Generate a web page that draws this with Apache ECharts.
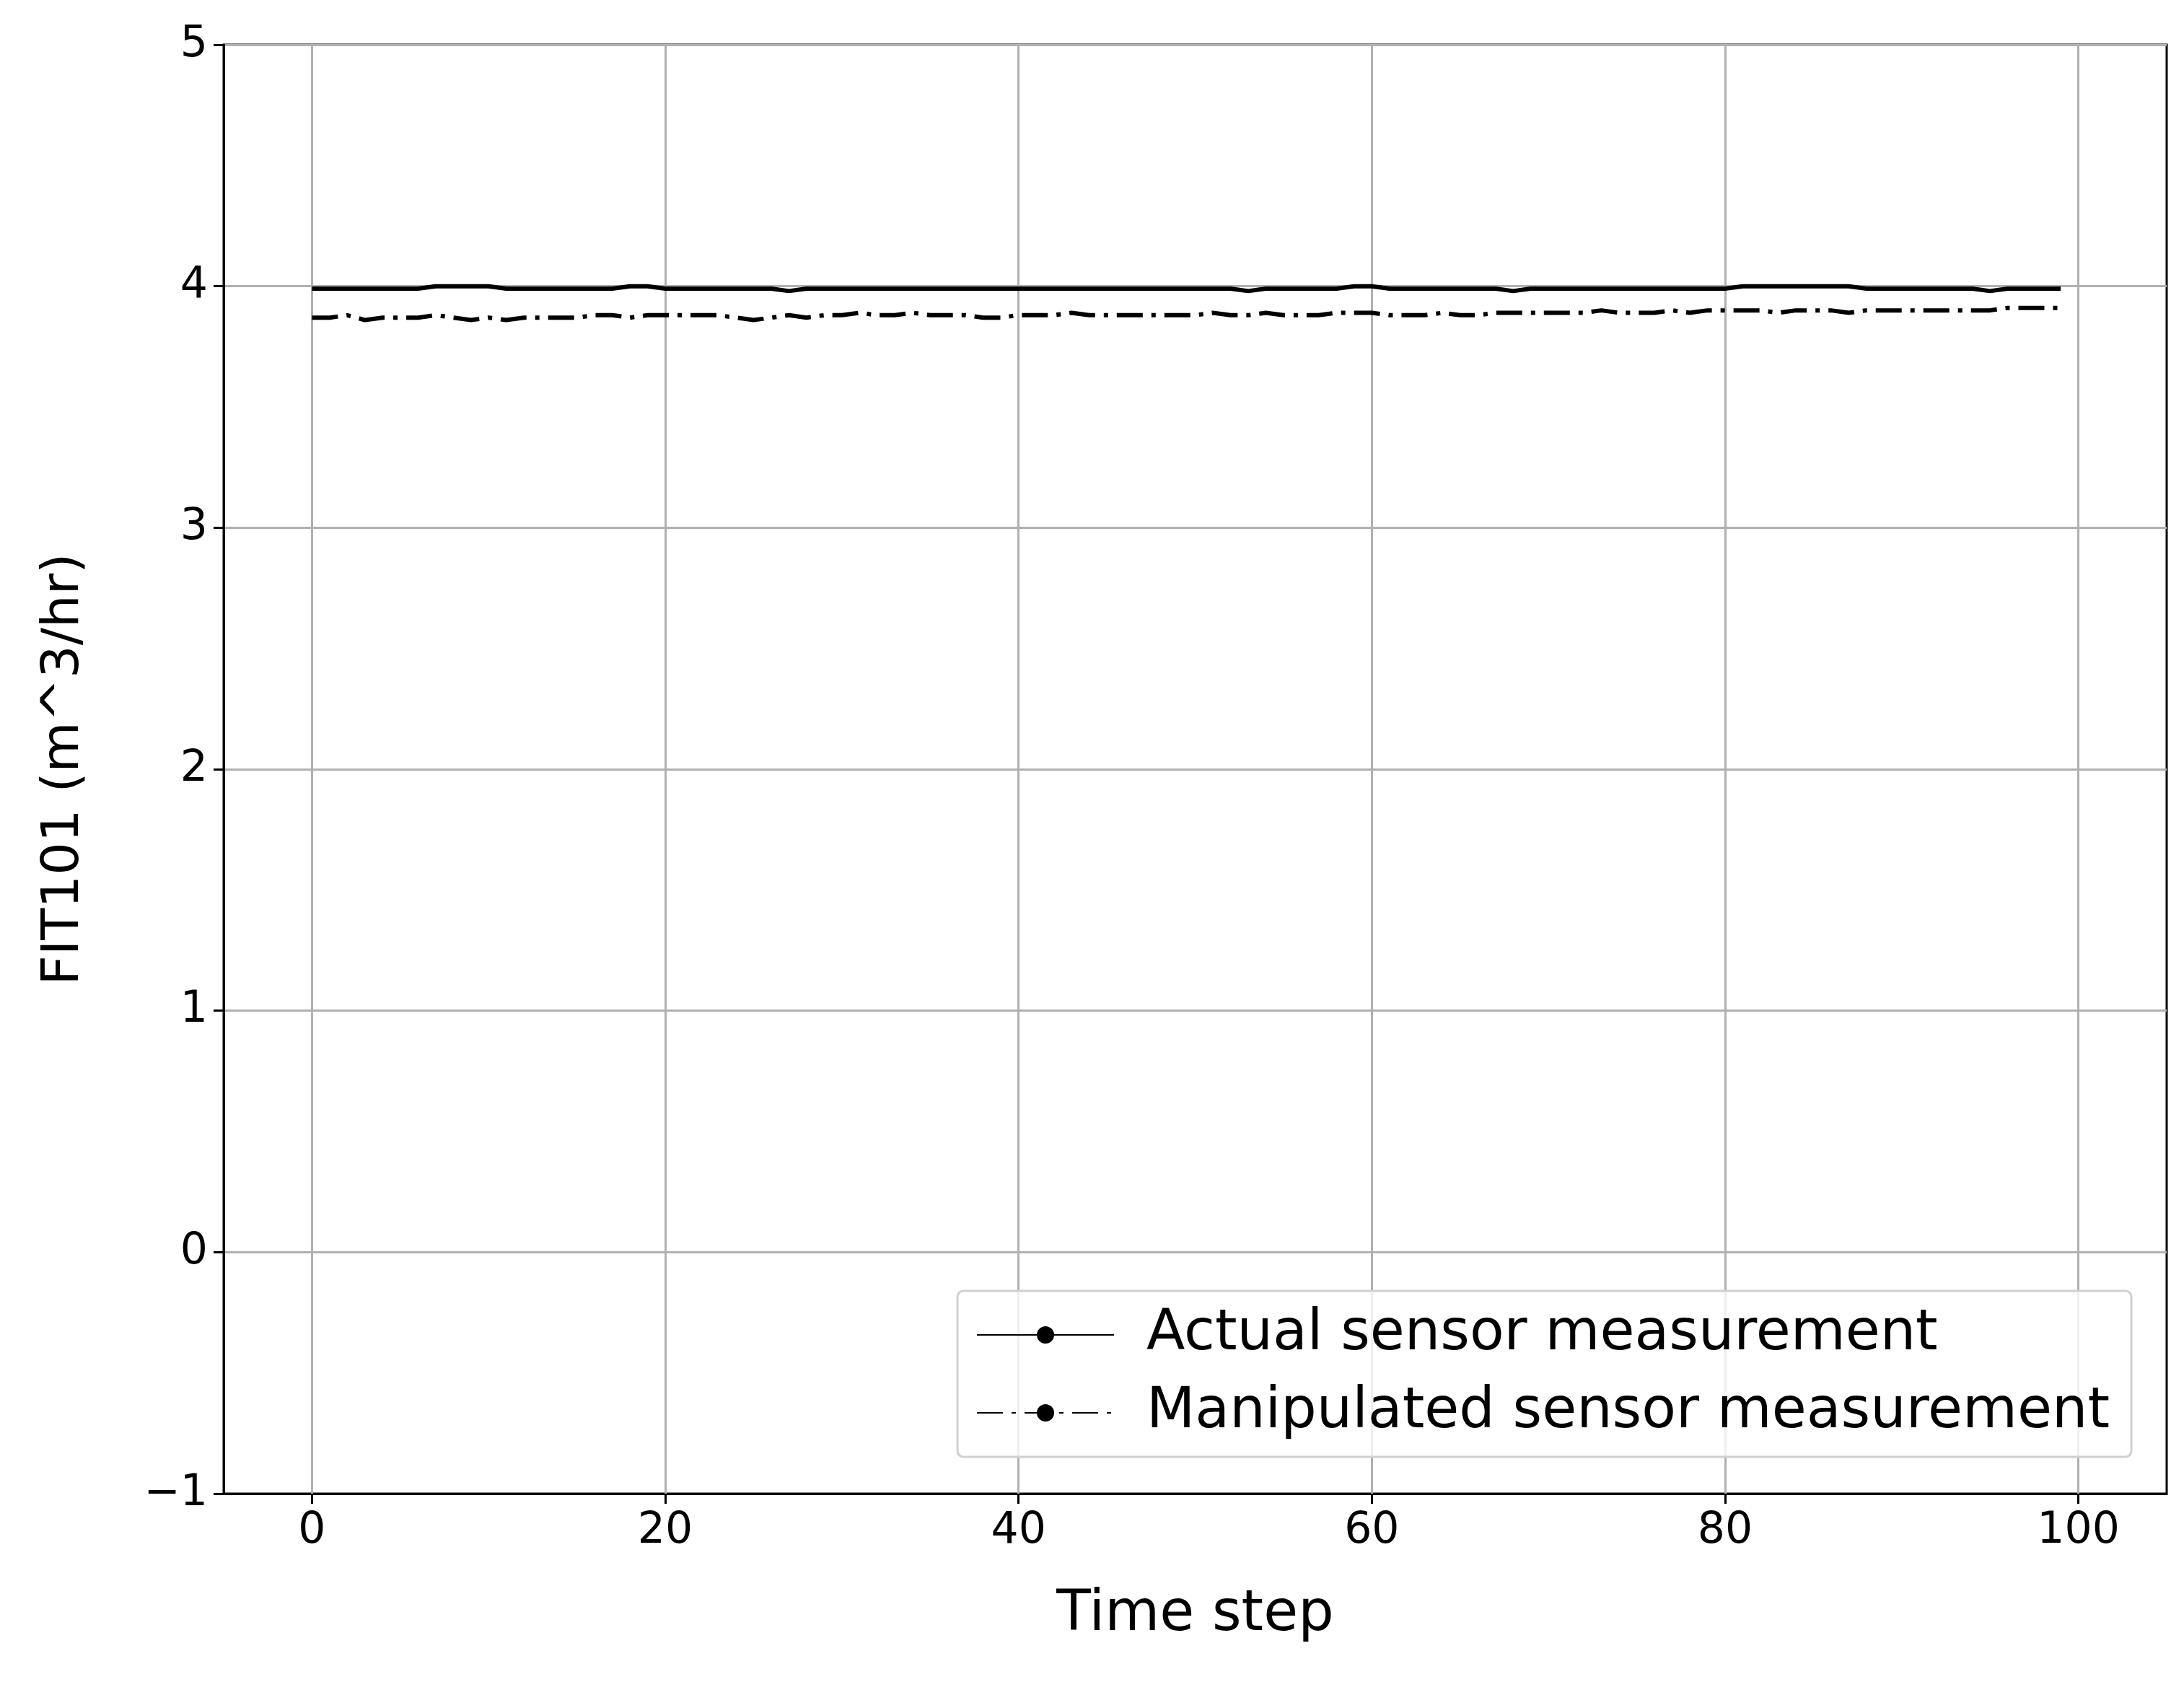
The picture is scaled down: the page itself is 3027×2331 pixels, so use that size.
<!DOCTYPE html>
<html><head><meta charset="utf-8">
<script src="https://cdn.jsdelivr.net/npm/echarts@6/dist/echarts.min.js"></script>
<style>html,body{margin:0;background:#fff}#c{width:3027px;height:2331px}</style>
</head><body><div id="c"></div>
<script>
const steps = Array.from({length: 100}, (_, i) => i);
const actual = [
  3.99,3.99,3.99,3.99,3.99,3.99,3.99,4.00,4.00,4.00,4.00,3.99,3.99,3.99,3.99,3.99,3.99,3.99,4.00,4.00,
  3.99,3.99,3.99,3.99,3.99,3.99,3.99,3.98,3.99,3.99,3.99,3.99,3.99,3.99,3.99,3.99,3.99,3.99,3.99,3.99,
  3.99,3.99,3.99,3.99,3.99,3.99,3.99,3.99,3.99,3.99,3.99,3.99,3.99,3.98,3.99,3.99,3.99,3.99,3.99,4.00,
  4.00,3.99,3.99,3.99,3.99,3.99,3.99,3.99,3.98,3.99,3.99,3.99,3.99,3.99,3.99,3.99,3.99,3.99,3.99,3.99,
  3.99,4.00,4.00,4.00,4.00,4.00,4.00,4.00,3.99,3.99,3.99,3.99,3.99,3.99,3.99,3.98,3.99,3.99,3.99,3.99
];
const manipulated = [
  3.87,3.87,3.88,3.86,3.87,3.87,3.87,3.88,3.87,3.86,3.87,3.86,3.87,3.87,3.87,3.87,3.88,3.88,3.87,3.88,
  3.88,3.88,3.88,3.88,3.87,3.86,3.87,3.88,3.87,3.88,3.88,3.89,3.88,3.88,3.89,3.88,3.88,3.88,3.87,3.87,
  3.88,3.88,3.88,3.89,3.88,3.88,3.88,3.88,3.88,3.88,3.88,3.89,3.88,3.88,3.89,3.88,3.88,3.88,3.89,3.89,
  3.89,3.88,3.88,3.88,3.89,3.88,3.88,3.89,3.89,3.89,3.89,3.89,3.89,3.90,3.89,3.89,3.89,3.90,3.89,3.90,
  3.90,3.90,3.90,3.89,3.90,3.90,3.90,3.89,3.90,3.90,3.90,3.90,3.90,3.90,3.90,3.90,3.91,3.91,3.91,3.91
];
const xTicks = [0, 20, 40, 60, 80, 100];
const font = "DejaVu Sans";
const chart = echarts.init(document.getElementById("c"));
chart.setOption({
  animation: false,
  backgroundColor: "#fff",
  textStyle: { fontFamily: font },
  grid: { left: 310, right: 24, top: 62, bottom: 261, show: true,
    borderColor: "#000", borderWidth: 3, backgroundColor: "transparent" },
  legend: {
    orient: "vertical", right: 73, bottom: 312,
    padding: [22, 30, 22, 26], itemGap: 30,
    itemWidth: 190, itemHeight: 30,
    borderColor: "#d0d0d0", borderWidth: 3, borderRadius: 8,
    backgroundColor: "rgba(255,255,255,0.8)",
    textStyle: { fontSize: 78, color: "#000", fontFamily: font, padding: [0, 0, 0, 40] },
    data: ["Actual sensor measurement", "Manipulated sensor measurement"]
  },
  xAxis: {
    type: "value", min: -5, max: 105,
    name: "Time step", nameLocation: "middle", nameGap: 130,
    nameTextStyle: { fontSize: 78, color: "#000" },
    axisLine: { onZero: false, lineStyle: { color: "#000", width: 3 } },
    axisTick: { show: true, length: 14, lineStyle: { color: "#000", width: 3 }, customValues: xTicks },
    axisLabel: { fontSize: 60, color: "#000", margin: 22, customValues: xTicks },
    splitLine: { show: false }
  },
  yAxis: {
    type: "value", min: -1, max: 5, interval: 1,
    name: "FIT101 (m^3/hr)", nameLocation: "middle", nameGap: 185,
    nameTextStyle: { fontSize: 72, color: "#000" },
    axisLine: { show: true, onZero: false, lineStyle: { color: "#000", width: 3 } },
    axisTick: { show: true, length: 14, lineStyle: { color: "#000", width: 3 } },
    axisLabel: { fontSize: 60, color: "#000", margin: 22,
      formatter: v => v < 0 ? "\u2212" + Math.abs(v) : String(v) },
    splitLine: { lineStyle: { color: "#b0b0b0", width: 3 } }
  },
  series: [
    { name: "Actual sensor measurement", type: "line", symbol: "none",
      data: steps.map((s, i) => [s, actual[i]]),
      lineStyle: { color: "#000", width: 6 }, itemStyle: { color: "#000" },
      markLine: {
        symbol: "none", silent: true, label: { show: false }, z: 1,
        lineStyle: { color: "#b0b0b0", width: 3, type: "solid" },
        data: xTicks.map(x => ({ xAxis: x }))
      } },
    { name: "Manipulated sensor measurement", type: "line", symbol: "none",
      data: steps.map((s, i) => [s, manipulated[i]]),
      lineStyle: { color: "#000", width: 6, type: [36, 12, 6, 12] }, itemStyle: { color: "#000" } }
  ]
});
</script></body></html>
